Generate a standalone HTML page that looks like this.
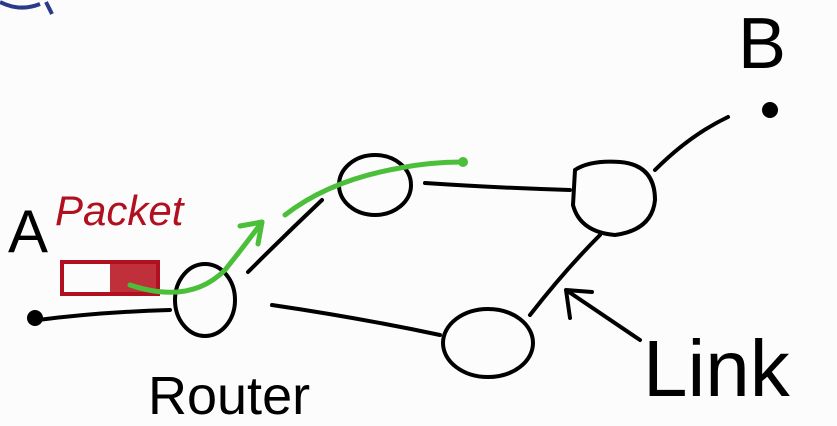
<!DOCTYPE html>
<html><head><meta charset="utf-8"><style>
html,body{margin:0;padding:0;background:#fff;width:837px;height:426px;overflow:hidden}
svg{display:block}
text{font-family:"Liberation Sans",sans-serif}
</style></head><body>
<svg width="837" height="426" viewBox="0 0 837 426">
<rect width="837" height="426" fill="#fcfcfc"/>
<path d="M0,2 Q20,12 40,4 M46,2 L52,14" stroke="#2a3a8a" stroke-width="4" fill="none"/>
<g stroke="#000" stroke-width="4" fill="none" stroke-linecap="round">
<circle cx="35" cy="318" r="6" fill="#000"/>
<path d="M38,320 Q100,312 170,310"/>
<ellipse cx="205" cy="300" rx="30" ry="36"/>
<path d="M248,272 Q285,235 322,200"/>
<ellipse cx="375" cy="185" rx="36" ry="30"/>
<path d="M425,183 Q500,188 570,190"/>
<path d="M575,170 Q590,160 620,162 Q655,165 655,200 Q652,230 615,235 Q580,232 573,205 Z"/>
<path d="M655,170 Q690,135 728,117"/>
<circle cx="770" cy="110" r="6" fill="#000"/>
<path d="M272,305 Q360,318 440,335"/>
<ellipse cx="488" cy="343" rx="45" ry="34"/>
<path d="M530,315 Q565,270 600,235"/>
<path d="M640,340 L566,290 M566,290 L570,318 M566,290 L592,292"/>
</g>
<text x="738" y="68" font-size="72">B</text>
<text x="8" y="252" font-size="60">A</text>
<text x="55" y="225" font-size="42" fill="#b01020" font-style="italic">Packet</text>
<rect x="62" y="262" width="96" height="32" fill="none" stroke="#b01020" stroke-width="4"/>
<rect x="110" y="264" width="46" height="28" fill="#c0303a"/>
<text x="148" y="414" font-size="54">Router</text>
<text x="643" y="396" font-size="80">Link</text>
<g stroke="#4cbf3a" stroke-width="5" fill="none" stroke-linecap="round">
<path d="M130,285 Q190,305 225,270 Q245,245 262,222"/>
<path d="M262,222 L240,226 M262,222 L258,244"/>
<path d="M285,215 Q330,180 400,168 Q430,162 462,162"/>
</g>
<circle cx="463" cy="162" r="5" fill="#4cbf3a"/>
</svg>
</body></html>
